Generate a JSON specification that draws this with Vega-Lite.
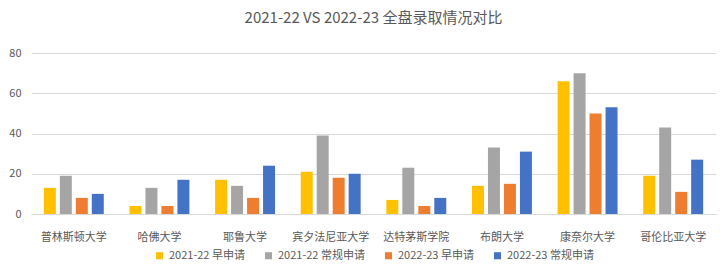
{
  "$schema": "https://vega.github.io/schema/vega-lite/v6.json",
  "autosize": {"type": "fit", "contains": "padding"},
  "width": 720,
  "height": 277,
  "padding": {"left": 8, "right": 4, "top": 11, "bottom": 16},
  "background": "white",
  "title": {
    "text": "2021-22 VS 2022-23 全盘录取情况对比",
    "font": "Noto Sans CJK SC",
    "fontSize": 15,
    "fontWeight": "normal",
    "color": "#595959",
    "anchor": "middle",
    "offset": 21
  },
  "data": {
    "values": [
      {"school": "普林斯顿大学", "series": "2021-22 早申请", "value": 13},
      {"school": "普林斯顿大学", "series": "2021-22 常规申请", "value": 19},
      {"school": "普林斯顿大学", "series": "2022-23 早申请", "value": 8},
      {"school": "普林斯顿大学", "series": "2022-23 常规申请", "value": 10},
      {"school": "哈佛大学", "series": "2021-22 早申请", "value": 4},
      {"school": "哈佛大学", "series": "2021-22 常规申请", "value": 13},
      {"school": "哈佛大学", "series": "2022-23 早申请", "value": 4},
      {"school": "哈佛大学", "series": "2022-23 常规申请", "value": 17},
      {"school": "耶鲁大学", "series": "2021-22 早申请", "value": 17},
      {"school": "耶鲁大学", "series": "2021-22 常规申请", "value": 14},
      {"school": "耶鲁大学", "series": "2022-23 早申请", "value": 8},
      {"school": "耶鲁大学", "series": "2022-23 常规申请", "value": 24},
      {"school": "宾夕法尼亚大学", "series": "2021-22 早申请", "value": 21},
      {"school": "宾夕法尼亚大学", "series": "2021-22 常规申请", "value": 39},
      {"school": "宾夕法尼亚大学", "series": "2022-23 早申请", "value": 18},
      {"school": "宾夕法尼亚大学", "series": "2022-23 常规申请", "value": 20},
      {"school": "达特茅斯学院", "series": "2021-22 早申请", "value": 7},
      {"school": "达特茅斯学院", "series": "2021-22 常规申请", "value": 23},
      {"school": "达特茅斯学院", "series": "2022-23 早申请", "value": 4},
      {"school": "达特茅斯学院", "series": "2022-23 常规申请", "value": 8},
      {"school": "布朗大学", "series": "2021-22 早申请", "value": 14},
      {"school": "布朗大学", "series": "2021-22 常规申请", "value": 33},
      {"school": "布朗大学", "series": "2022-23 早申请", "value": 15},
      {"school": "布朗大学", "series": "2022-23 常规申请", "value": 31},
      {"school": "康奈尔大学", "series": "2021-22 早申请", "value": 66},
      {"school": "康奈尔大学", "series": "2021-22 常规申请", "value": 70},
      {"school": "康奈尔大学", "series": "2022-23 早申请", "value": 50},
      {"school": "康奈尔大学", "series": "2022-23 常规申请", "value": 53},
      {"school": "哥伦比亚大学", "series": "2021-22 早申请", "value": 19},
      {"school": "哥伦比亚大学", "series": "2021-22 常规申请", "value": 43},
      {"school": "哥伦比亚大学", "series": "2022-23 早申请", "value": 11},
      {"school": "哥伦比亚大学", "series": "2022-23 常规申请", "value": 27}
    ]
  },
  "mark": {"type": "bar"},
  "encoding": {
    "x": {
      "field": "school",
      "type": "nominal",
      "sort": null,
      "scale": {"paddingInner": 0.3, "paddingOuter": 0.15},
      "axis": {
        "title": null,
        "labelAngle": 0,
        "ticks": false,
        "domain": true,
        "domainColor": "#D9D9D9",
        "labelFont": "Noto Sans CJK SC",
        "labelFontSize": 11,
        "labelColor": "#595959",
        "labelPadding": 17
      }
    },
    "xOffset": {
      "field": "series",
      "type": "nominal",
      "sort": ["2021-22 早申请", "2021-22 常规申请", "2022-23 早申请", "2022-23 常规申请"],
      "scale": {"paddingInner": 0.25}
    },
    "y": {
      "field": "value",
      "type": "quantitative",
      "scale": {"domain": [0, 80]},
      "axis": {
        "title": null,
        "values": [0, 20, 40, 60, 80],
        "ticks": false,
        "domain": false,
        "gridColor": "#D9D9D9",
        "labelFont": "Noto Sans CJK SC",
        "labelFontSize": 11,
        "labelColor": "#595959",
        "labelPadding": 10
      }
    },
    "color": {
      "field": "series",
      "type": "nominal",
      "sort": ["2021-22 早申请", "2021-22 常规申请", "2022-23 早申请", "2022-23 常规申请"],
      "scale": {
        "domain": ["2021-22 早申请", "2021-22 常规申请", "2022-23 早申请", "2022-23 常规申请"],
        "range": ["#FFC000", "#A5A5A5", "#ED7D31", "#4472C4"]
      },
      "legend": {
        "title": null,
        "orient": "bottom",
        "direction": "horizontal",
        "symbolType": "square",
        "symbolSize": 50,
        "labelFont": "Noto Sans CJK SC",
        "labelFontSize": 11,
        "labelColor": "#595959",
        "columnPadding": 18,
        "offset": 8
      }
    }
  },
  "config": {
    "view": {"stroke": null},
    "legend": {"layout": {"bottom": {"anchor": "middle"}}}
  }
}
